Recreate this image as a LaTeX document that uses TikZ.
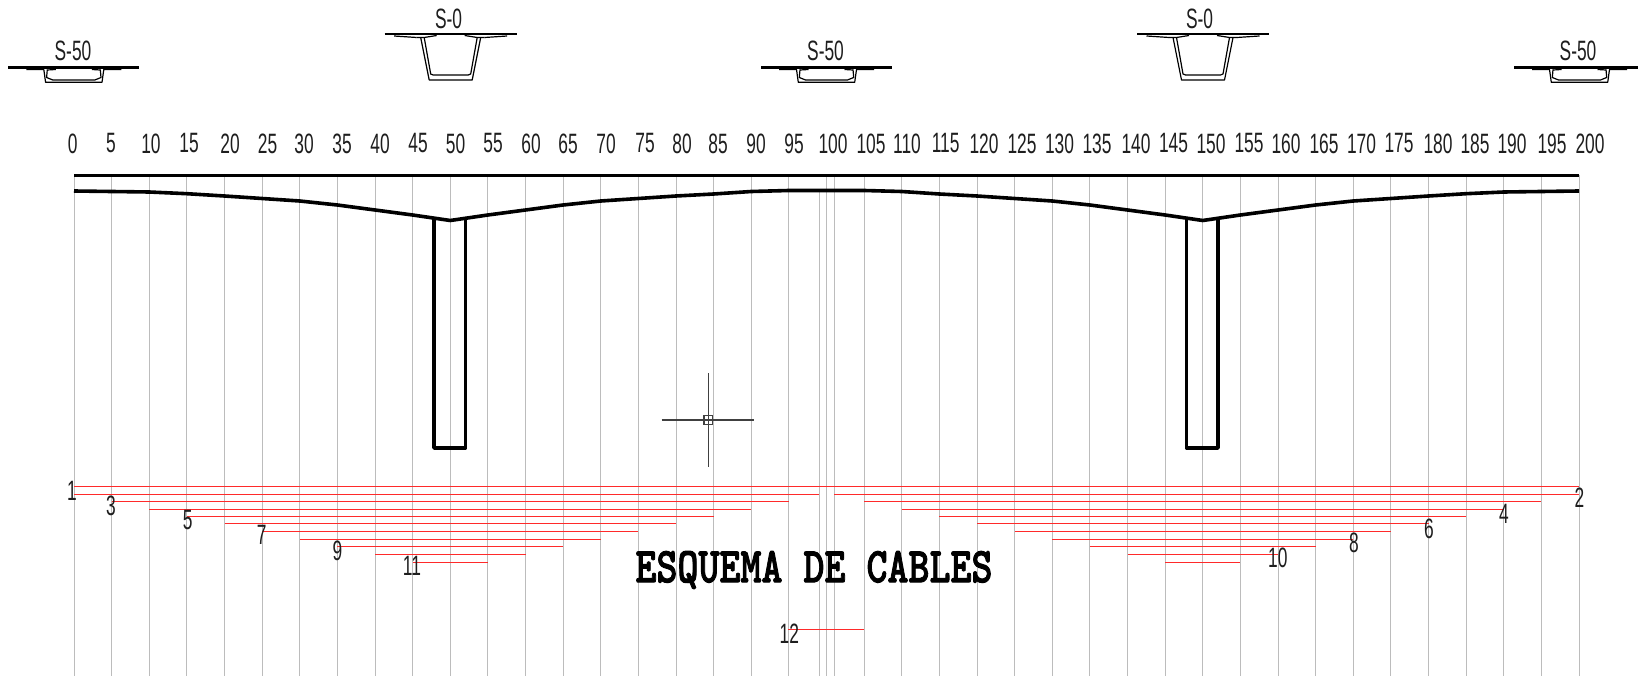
\documentclass[tikz,border=0pt]{standalone}
\usepackage{fontspec}
\setmainfont{Liberation Sans}
\newfontfamily\titlefont[FakeBold=2]{lmmonolt10-bold.otf}
\definecolor{gridgray}{HTML}{BCBCBC}
\definecolor{cablered}{HTML}{FF2A2A}
\definecolor{cadink}{HTML}{1E1E1E}
\tikzset{
  gridline/.style={draw=gridgray,line width=1.5pt},
  cable/.style={draw=cablered,line width=1.5pt},
  heavy/.style={draw=black,line width=3.6pt,line join=round},
  thinsec/.style={draw=black,line width=1.2pt,line join=round},
  flange/.style={draw=black,line width=2.2pt},
  cursorline/.style={draw=cadink!85,line width=1.2pt},
  cadlabel/.style={font=\fontsize{28}{28}\selectfont,text=cadink,inner sep=0pt,xscale=.62},
  titlelabel/.style={font=\fontsize{40}{40}\selectfont\titlefont,text=black,inner sep=0pt,yscale=1.25}
}
\newcommand{\SecFifty}[1]{%
  \begin{scope}[shift={(#1,0)}]
    \draw[flange] (-65.5,67.5) -- (65.5,67.5);
    \draw[thinsec] (-47.5,69.5) -- (-30,69.5) -- (-28.2,82.3) -- (28.2,82.3) -- (30,69.5) -- (47.5,69.5);
    \draw[thinsec] (-26.5,69.5) -- (-27.2,77.5) -- (-21,80) -- (21,80) -- (27.2,77.5) -- (26.5,69.5);
    \draw[thinsec] (-26.5,70) -- (-18,69.5);
    \draw[thinsec] (26.5,70) -- (18,69.5);
  \end{scope}}
\newcommand{\SecZero}[1]{%
  \begin{scope}[shift={(#1,0)}]
    \draw[flange] (-66,34) -- (66,34);
    \draw[thinsec] (-56.5,36) -- (-34,37.5);
    \draw[thinsec] (56.5,36) -- (34,37.5);
    \draw[thinsec] (-30,37.5) -- (-21.5,80) -- (21.5,80) -- (30,37.5);
    \draw[thinsec] (-26.5,37.5) -- (-20,74) -- (-17.5,75) -- (17.5,75) -- (20,74) -- (26.5,37.5);
    \draw[thinsec] (-34,37.5) -- (-26.5,37.5) -- (-14,35.5);
    \draw[thinsec] (34,37.5) -- (26.5,37.5) -- (14,35.5);
  \end{scope}}
\begin{document}
\begin{tikzpicture}[x=1pt,y=-1pt]
\useasboundingbox (0,0) rectangle (1638,676);
\fill[white] (0,0) rectangle (1638,676);
% grid
\foreach \k in {0,...,40}{
  \pgfmathsetmacro{\gx}{floor(74+37.625*\k)+.5}
  \draw[gridline] (\gx,175.5) -- (\gx,676);
}
\draw[gridline] (819.5,191) -- (819.5,676);
\draw[gridline] (834.5,175.5) -- (834.5,676);
% cables
\draw[cable] (74,486.5) -- (1579,486.5);
\foreach \y/\a/\b in {494.5/0/20,501.5/1/19,509.5/2/18,516.5/3/17,523.5/4/16,531.5/5/15,539.5/6/14,546.5/7/13,554.5/8/12,562.5/9/11}{
  \pgfmathsetmacro{\xa}{74+37.625*\a}
  \pgfmathsetmacro{\xb}{\b==20?819:74+37.625*\b}
  \pgfmathsetmacro{\xc}{\b==20?834:1579-37.625*\b}
  \pgfmathsetmacro{\xd}{1579-37.625*\a}
  \draw[cable] (\xa,\y) -- (\xb,\y);
  \draw[cable] (\xc,\y) -- (\xd,\y);
}
\draw[cable] (788.3,629.5) -- (863.7,629.5);
% deck
\draw[heavy] (74,175.5) -- (1579,175.5);
\def\prof{{191,191.5,192,193.7,196,198.5,201,205,210,215,220.5,215,210,205,201,198.5,196,194,191.5,190.5,190.5,190.5,191.5,194,196,198.5,201,205,210,215,220.5,215,210,205,201,198.5,196,193.7,192,191.5,191}}
\draw[heavy] (74,191) \foreach \k in {1,...,40}{
  -- ({74+37.625*\k},{\prof[\k]}) };
% piers
\draw[heavy] (434,217.5) -- (434,448) -- (465.5,448) -- (465.5,217.5);
\draw[heavy] (1186.5,217.5) -- (1186.5,448) -- (1218,448) -- (1218,217.5);
% cross sections
\SecFifty{73.8}
\SecFifty{826.5}
\begin{scope}
  \clip (0,0) rectangle (1638,676);
  \SecFifty{1579.5}
\end{scope}
\SecZero{450.7}
\SecZero{1203}
% cursor
\draw[cursorline] (661.7,420) -- (754.3,420);
\draw[cursorline] (708.3,373.3) -- (708.3,466.7);
\draw[cursorline] (704,415.7) rectangle (712.6,424.3);
% section labels
\node[cadlabel] (s50a) at (73,51) {S-50};
\node[cadlabel] (s0a) at (448.6,18.7) {S-0};
\node[cadlabel] (s50b) at (825.5,51) {S-50};
\node[cadlabel] (s0b) at (1199.5,18.7) {S-0};
\node[cadlabel] (s50c) at (1578,51) {S-50};
% station labels
\foreach \t/\x in {0/72.6,5/111,10/151,15/189,20/230,25/267.5,30/304,35/342,40/380,45/418,50/455.6,55/493,60/531,65/568,70/606,75/645,80/682,85/718,90/756,95/794,100/833,105/871,110/907,115/945.6,120/984,125/1022,130/1059.5,135/1097,140/1136,145/1173.5,150/1211,155/1249,160/1286,165/1324,170/1361.5,175/1399,180/1438,185/1475,190/1512,195/1552,200/1590}{
  \node[cadlabel] (st\t) at (\x,143.5) {\t};
}
% cable labels
\foreach \t/\x/\y in {1/72/490.7,3/111/506,5/187.6/520,7/261.7/535,9/337.4/550.7,11/412/566,12/789.3/634,2/1579.4/498,4/1504/513.7,6/1429/528.7,8/1354/543.3,10/1277.8/558.3}{
  \node[cadlabel] (c\t) at (\x,\y) {\t};
}
% title
\node[titlelabel] (title) at (814,570) {ESQUEMA DE CABLES};
\end{tikzpicture}
\end{document}
